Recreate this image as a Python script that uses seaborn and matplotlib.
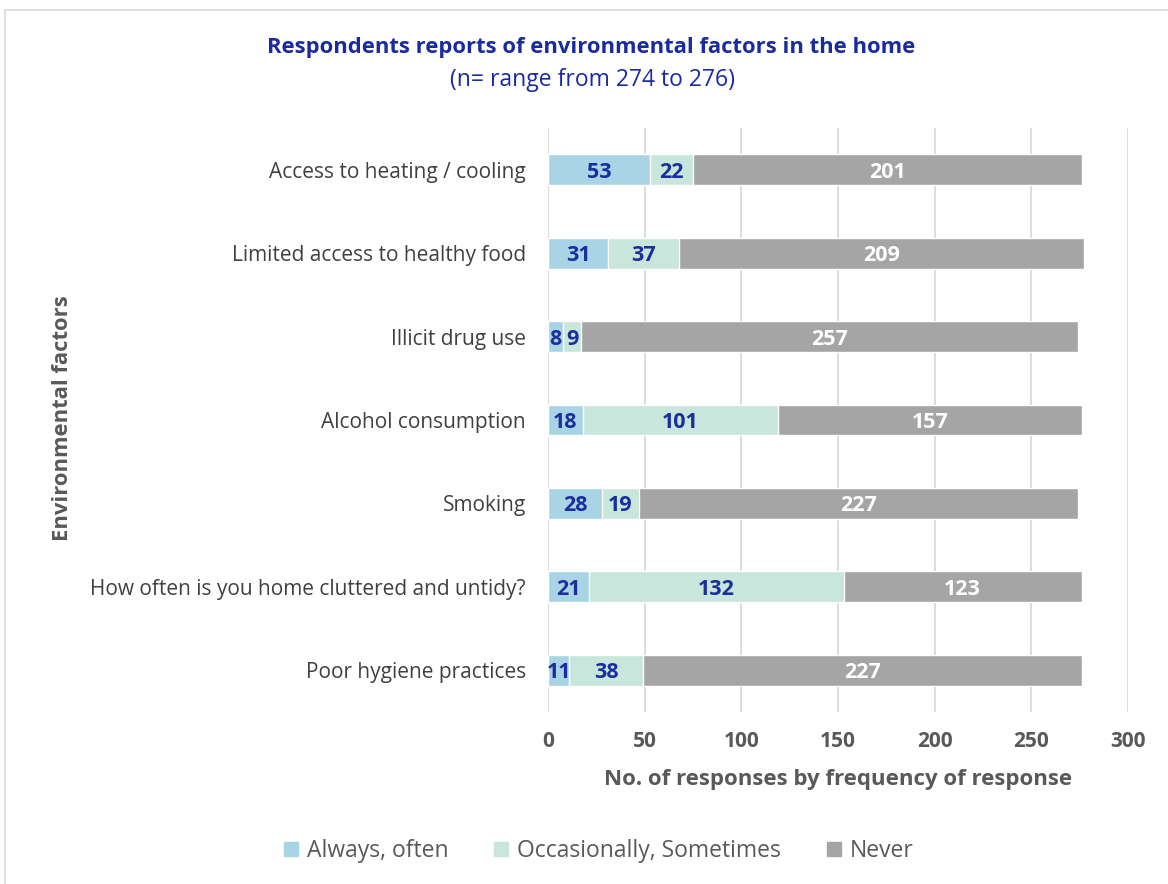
import matplotlib
matplotlib.use("Agg")
import matplotlib.pyplot as plt
import seaborn as sns
import pandas as pd
import numpy as np
from matplotlib.patches import Rectangle, Patch

categories = ["Access to heating / cooling", "Limited access to healthy food", "Illicit drug use",
              "Alcohol consumption", "Smoking", "How often is you home cluttered and untidy?",
              "Poor hygiene practices"]
always = [53, 31, 8, 18, 28, 21, 11]
occasionally = [22, 37, 9, 101, 19, 132, 38]
never = [201, 209, 257, 157, 227, 123, 227]
series_names = ["Always, often", "Occasionally, Sometimes", "Never"]
colors = ["#A9D4E6", "#C8E6DC", "#A5A5A5"]
xticks = [0, 50, 100, 150, 200, 250, 300]

sns.set_theme(style="white")
plt.rcParams['font.family'] = ['Open Sans', 'DejaVu Sans']

fig = plt.figure(figsize=(11.68, 8.84), dpi=100)
ax = fig.add_axes([548/1168, 1-712/884, 580/1168, 584/884])

df = pd.DataFrame({"cat": categories, "a": always, "o": occasionally, "n": never})
df["ao"] = df["a"] + df["o"]
df["aon"] = df["ao"] + df["n"]

bh = 0.37
sns.barplot(data=df, y="cat", x="aon", color=colors[2], orient="h", width=bh, ax=ax,
            saturation=1, zorder=3, order=categories)
sns.barplot(data=df, y="cat", x="ao", color=colors[1], orient="h", width=bh, ax=ax,
            saturation=1, zorder=3, order=categories)
sns.barplot(data=df, y="cat", x="a", color=colors[0], orient="h", width=bh, ax=ax,
            saturation=1, zorder=3, order=categories)

label_blue = "#1A2E9E"
for i in range(len(categories)):
    a, o, n = always[i], occasionally[i], never[i]
    ax.text(a / 2, i, str(a), ha="center", va="center_baseline", color=label_blue,
            fontsize=15.5, fontweight="bold", zorder=5)
    ax.text(a + o / 2, i, str(o), ha="center", va="center_baseline", color=label_blue,
            fontsize=15.5, fontweight="bold", zorder=5)
    ax.text(a + o + n / 2, i, str(n), ha="center", va="center_baseline", color="white",
            fontsize=15.5, fontweight="bold", zorder=5)

ax.set_xlim(0, 300)
ax.set_ylim(6.5, -0.5)
ax.set_xticks(xticks)
ax.set_xticklabels([str(t) for t in xticks], fontsize=15, fontweight="bold", color="#595959")
ax.tick_params(axis="y", labelsize=15, colors="#404040", length=0, pad=16)
ax.tick_params(axis="x", length=0, pad=14)
ax.xaxis.grid(True, color="#D9D9D9", linewidth=1.3, zorder=0)
ax.yaxis.grid(False)
for s in ax.spines.values():
    s.set_visible(False)
ax.set_xlabel("No. of responses by frequency of response", fontsize=16, fontweight="bold",
              color="#595959", labelpad=12)
ax.set_ylabel("")
fig.text(62/1168, 1-418/884, "Environmental factors", rotation=90, ha="center", va="center",
         fontsize=15.8, fontweight="bold", color="#595959")

fig.text(591/1168, 1-47/884, "Respondents reports of environmental factors in the home",
         ha="center", va="center", fontsize=15.8, fontweight="bold", color="#1A2BA0")
fig.text(592/1168, 1-80/884, "(n= range from 274 to 276)", ha="center", va="center",
         fontsize=16.5, color="#1A2BA0")

handles = [Patch(facecolor=c, edgecolor=c) for c in colors]
fig.legend(handles, series_names, loc="center", bbox_to_anchor=(599/1168, 1-851/884), ncol=3,
           frameon=False, fontsize=16.5, handlelength=0.6, handleheight=0.6,
           columnspacing=2.0, handletextpad=0.4, labelcolor="#595959")

fig.patches.append(Rectangle((5/1168, -0.01), 1.2, 1-10/884+0.01, transform=fig.transFigure,
                             fill=False, edgecolor="#D9D9D9", linewidth=1.2, zorder=-1))

fig.savefig("out.png", dpi=100)
